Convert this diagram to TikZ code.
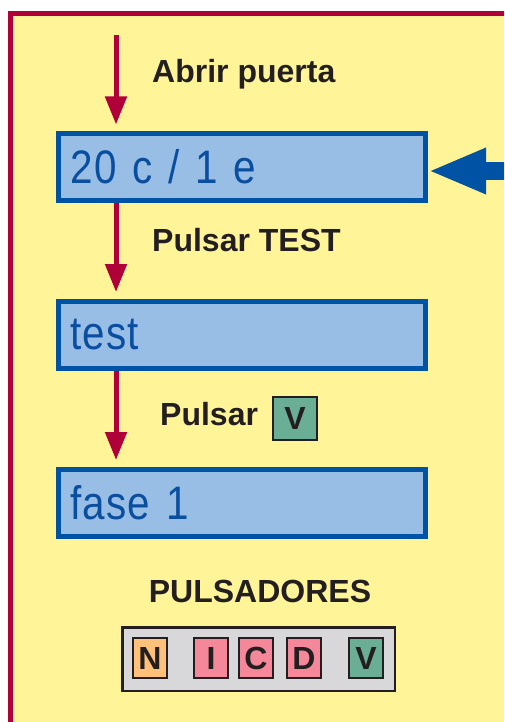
\documentclass[tikz,border=0pt]{standalone}
\usepackage{fontspec}
\setmainfont{Liberation Sans}
\newfontfamily\lcdfont[FakeStretch=0.86, LetterSpace=2.5]{Liberation Sans}
\newcommand\lcdletra{\lcdfont\fontsize{47}{50}\selectfont\spaceskip=4pt\relax}
\usetikzlibrary{arrows.meta, positioning}
\definecolor{marco}{HTML}{B0003A}
\definecolor{amarillo}{HTML}{FFF598}
\definecolor{azul}{HTML}{0052A4}
\definecolor{celeste}{HTML}{98BEE6}
\definecolor{tinta}{HTML}{0A4EA0}
\definecolor{oscuro}{HTML}{231F20}
\definecolor{gris}{HTML}{D8D8DA}
\definecolor{naranja}{HTML}{FFC07A}
\definecolor{rosa}{HTML}{F4889A}
\definecolor{verde}{HTML}{6AAE96}

\begin{document}
\begin{tikzpicture}[x=1pt, y=-1pt,
  pantalla/.style={draw=azul, fill=celeste, line width=5pt, minimum height=67pt, text width=343pt, inner xsep=12pt, align=left, text=tinta, font=\lcdletra},
  flecha/.style={draw=marco, line width=5pt, -{Triangle[length=28pt, width=21pt]}},
  rotulo/.style={anchor=base west, inner sep=0pt, text=oscuro, font=\bfseries\fontsize{32}{36}\selectfont},
  boton/.style={draw=oscuro, line width=2.5pt, minimum width=34pt, minimum height=40pt, inner sep=0pt, text=oscuro, font=\bfseries\fontsize{32}{36}\selectfont}]
\useasboundingbox (0,0) rectangle (504,722);
\clip (0,0) rectangle (504,722);
\fill[white] (0,0) rectangle (504,722);
\draw [marco, fill=amarillo, line width=5pt] (10.5,13.5) rectangle (540,760);

% pantallas
\node [pantalla] (pant1) at (242,167) {20 c / 1 e};
\node [pantalla] (pant2) at (242,335) {test};
\node [pantalla] (pant3) at (242,503) {fase 1};

% flechas
\coordinate (inicio) at (116,35);
\coordinate (entrada) at (510,171);
\draw [flecha, shorten >=6.5pt] (inicio) -- (inicio |- pant1.north);
\draw [flecha, shorten >=7pt] (inicio |- pant1.south) -- (inicio |- pant2.north);
\draw [flecha, shorten >=7pt] (inicio |- pant2.south) -- (inicio |- pant3.north);
\draw [azul, line width=18pt, -{Triangle[length=58pt, width=42pt]}] (entrada) -- (entrada -| pant1.east);

% textos
\node [rotulo] (abrir) at (152,83) {Abrir puerta};
\node [rotulo] (test) at (152,251.5) {Pulsar TEST};
\node [rotulo] (pulsar) at (160,425) {Pulsar};
\node [boton, fill=verde, minimum width=44pt, minimum height=43pt] (teclaV) at (295,418.5) {V};

% pulsadores
\node [text=oscuro, font=\bfseries\fontsize{32}{36}\selectfont, anchor=base] (titulo) at (260,602) {PULSADORES};
\node [draw=oscuro, fill=gris, line width=2.5pt, minimum width=272.5pt, minimum height=63.5pt] (panel) at (258.5,659) {};
\foreach \letra/\xc/\col in {N/150/naranja, I/211/rosa, C/256/rosa, D/304/rosa, V/366/verde}
  \node [boton, fill=\col] (b\letra) at (\xc,658) {\letra};
\end{tikzpicture}
\end{document}
